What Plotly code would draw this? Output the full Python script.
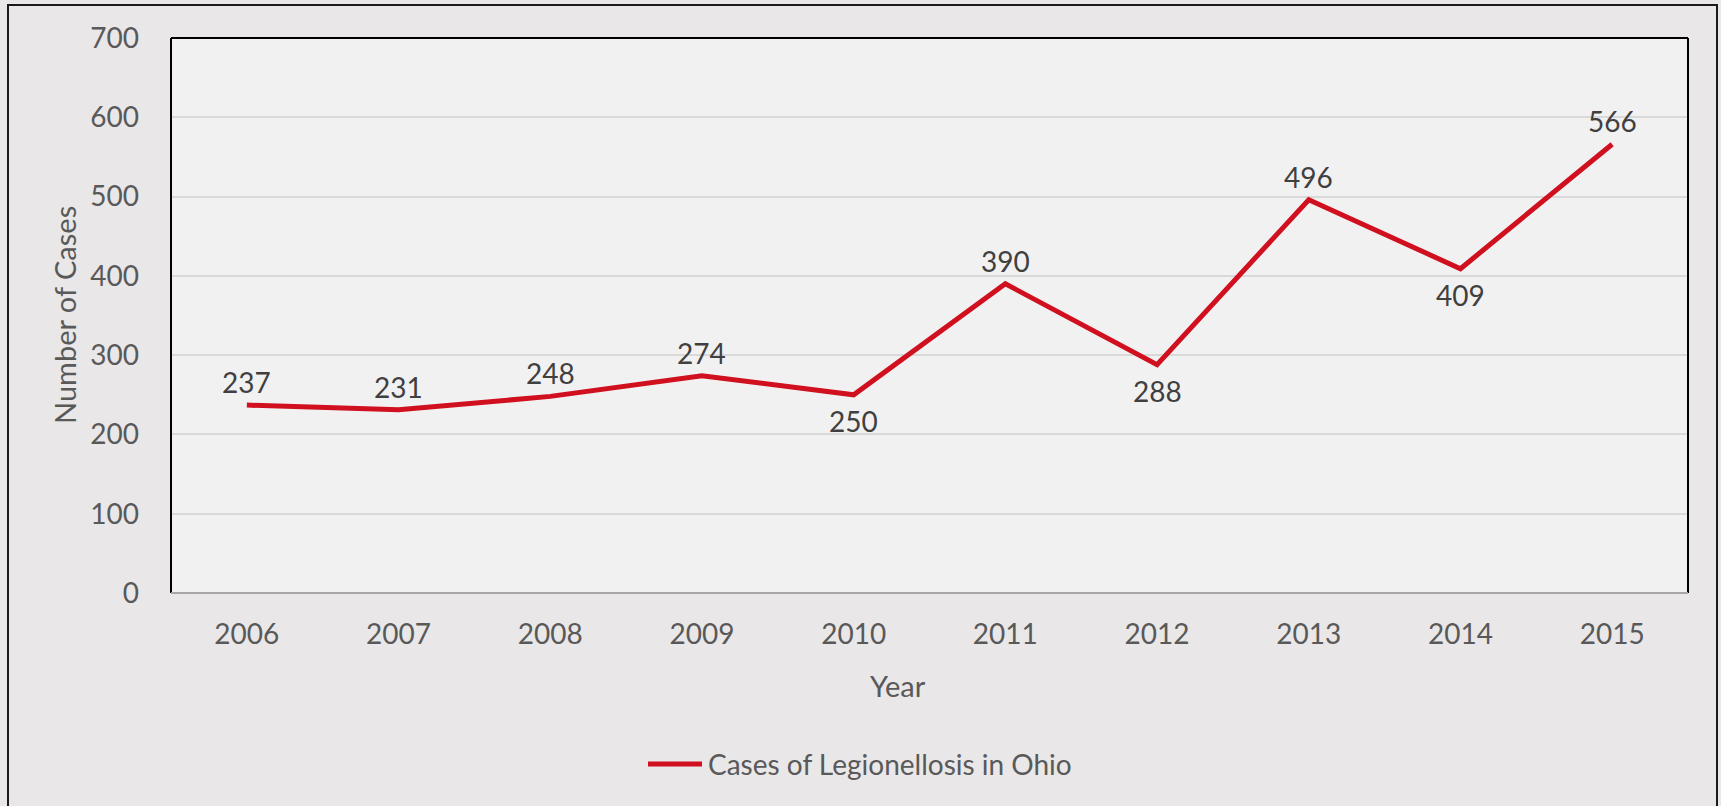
import plotly.graph_objects as go

# Annual cases of Legionellosis reported in Ohio
years = ["2006", "2007", "2008", "2009", "2010", "2011", "2012", "2013", "2014", "2015"]
cases = [237, 231, 248, 274, 250, 390, 288, 496, 409, 566]
label_side = ["above", "above", "above", "above", "below",
              "above", "below", "above", "below", "above"]
y_ticks = [0, 100, 200, 300, 400, 500, 600, 700]
series_name = "Cases of Legionellosis in Ohio"

W, H = 1721, 806
L, R, T, B = 171, 1688, 38, 593  # plot area in pixels

LINE_RED = "#D0101F"
FONT = "Lato, 'Open Sans', sans-serif"
FS = 28

fig = go.Figure()
fig.add_trace(go.Scatter(
    x=years, y=cases,
    mode="lines",
    name=series_name,
    showlegend=False,
    line=dict(color=LINE_RED, width=5),
))


def px_x(px):
    return (px - L) / (R - L)


def px_y(py):
    return (B - py) / (B - T)


# value labels sitting above or below each point (x given as category index,
# since year strings look numeric to annotation positioning)
value_labels = [
    dict(x=i, y=v, xref="x", yref="y", text=str(v), showarrow=False,
         xanchor="center", yanchor="middle",
         yshift=23 if side == "above" else -26,
         font=dict(family=FONT, size=FS, color="#404040"))
    for i, (v, side) in enumerate(zip(cases, label_side))
]

fig.update_layout(
    width=W, height=H,
    margin=dict(l=L, r=W - R, t=T, b=H - B, pad=0),
    paper_bgcolor="#E9E7E8",
    plot_bgcolor="#F2F1F2",
    font=dict(family=FONT, color="#595959", size=FS),
    xaxis=dict(
        type="category", categoryorder="array", categoryarray=years,
        range=[-0.5, len(years) - 0.5],
        showgrid=False, zeroline=False,
        showline=False,
        ticks="", ticklabelstandoff=22,
        tickfont=dict(family=FONT, size=FS, color="#595959"),
    ),
    yaxis=dict(
        range=[0, 700], tickvals=y_ticks,
        showgrid=True, gridcolor="#D9D9D9", gridwidth=1.5,
        zeroline=False, showline=False,
        ticks="", ticklabelstandoff=31,
        tickfont=dict(family=FONT, size=FS, color="#595959"),
    ),
    annotations=value_labels + [
        dict(text="Number of Cases", xref="paper", yref="paper",
             x=px_x(64), y=px_y(315), textangle=-90, showarrow=False,
             xanchor="center", yanchor="middle",
             font=dict(family=FONT, size=29, color="#595959")),
        dict(text="Year", xref="paper", yref="paper",
             x=px_x(898), y=px_y(685), showarrow=False,
             xanchor="center", yanchor="middle",
             font=dict(family=FONT, size=29, color="#595959")),
        # legend entry text
        dict(text=series_name, xref="paper", yref="paper",
             x=px_x(706), y=px_y(764), showarrow=False,
             xanchor="left", yanchor="middle",
             font=dict(family=FONT, size=FS, color="#595959")),
    ],
    shapes=[
        # outer chart frame
        dict(type="rect", xref="paper", yref="paper",
             x0=px_x(8), x1=px_x(1717), y0=px_y(830), y1=px_y(5),
             line=dict(color="#1A1A1A", width=2), layer="below"),
        # plot-area frame: black left/top/right, grey baseline
        dict(type="line", xref="paper", yref="paper", x0=0, x1=0, y0=0, y1=1,
             line=dict(color="#000000", width=2)),
        dict(type="line", xref="paper", yref="paper", x0=0, x1=1, y0=1, y1=1,
             line=dict(color="#000000", width=2)),
        dict(type="line", xref="paper", yref="paper", x0=1, x1=1, y0=0, y1=1,
             line=dict(color="#000000", width=2)),
        dict(type="line", xref="paper", yref="paper", x0=0, x1=1, y0=0, y1=0,
             line=dict(color="#A6A6A6", width=2)),
        # legend entry swatch
        dict(type="line", xref="paper", yref="paper",
             x0=px_x(648), x1=px_x(702), y0=px_y(764), y1=px_y(764),
             line=dict(color=LINE_RED, width=5)),
    ],
)

fig.write_html("out.html")
